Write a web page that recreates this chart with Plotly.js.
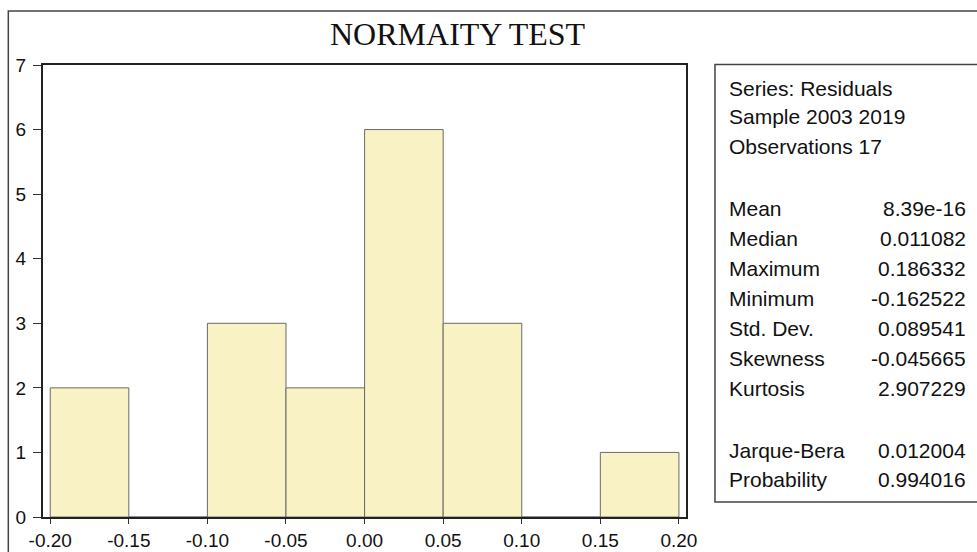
<!DOCTYPE html>
<html>
<head>
<meta charset="utf-8">
<script src="https://cdn.plot.ly/plotly-3.0.1.min.js"></script>
<style>html,body{margin:0;padding:0;background:#fff;}#chart{width:977px;height:552px;}</style>
</head>
<body>
<div id="chart"></div>
<script>
// ---- data ----
var binCenters = [-0.175, -0.125, -0.075, -0.025, 0.025, 0.075, 0.125, 0.175];
var counts = [2, 0, 3, 2, 6, 3, 0, 1];
var binWidth = 0.05;
var xTickVals = [-0.20, -0.15, -0.10, -0.05, 0.00, 0.05, 0.10, 0.15, 0.20];
var xTickText = ["-0.20", "-0.15", "-0.10", "-0.05", "0.00", "0.05", "0.10", "0.15", "0.20"];
var headerLines = ["Series: Residuals", "Sample 2003 2019", "Observations 17"];
var statLabels = ["Mean", "Median", "Maximum", "Minimum", "Std. Dev.", "Skewness", "Kurtosis", "Jarque-Bera", "Probability"];
var statValues = ["8.39e-16", "0.011082", "0.186332", "-0.162522", "0.089541", "-0.045665", "2.907229", "0.012004", "0.994016"];
var chartTitle = "NORMAITY TEST";

// ---- layout geometry (pixels) ----
var W = 977, H = 552;
var plotL = 42.7, plotR = 686, plotT = 65, plotB = 517;
var pw = plotR - plotL, ph = plotB - plotT;
function px(x) { return (x - plotL) / pw; }
function py(y) { return (plotB - y) / ph; }

var annotations = [];
annotations.push({
  text: chartTitle, xref: 'paper', yref: 'paper', x: px(458), y: py(34),
  xanchor: 'center', yanchor: 'middle', showarrow: false,
  font: {family: '"Liberation Serif", "Times New Roman", serif', size: 32, color: '#111'}
});
var statFont = {family: 'Arial, "Liberation Sans", sans-serif', size: 21, color: '#111'};
var headerY = [88, 117, 147];
headerLines.forEach(function (t, i) {
  annotations.push({text: t, xref: 'paper', yref: 'paper', x: px(727), y: py(headerY[i]),
    xanchor: 'left', yanchor: 'middle', showarrow: false, font: statFont});
});
var statY = [208, 238, 268, 298, 328, 358, 388, 450, 479];
statLabels.forEach(function (t, i) {
  annotations.push({text: t, xref: 'paper', yref: 'paper', x: px(727), y: py(statY[i]),
    xanchor: 'left', yanchor: 'middle', showarrow: false, font: statFont});
  annotations.push({text: statValues[i], xref: 'paper', yref: 'paper', x: px(968), y: py(statY[i]),
    xanchor: 'right', yanchor: 'middle', showarrow: false, font: statFont});
});

var shapes = [
  // outer frame (right and bottom fall outside picture)
  {type: 'rect', xref: 'paper', yref: 'paper', x0: px(8), x1: px(1000), y0: py(580), y1: py(11),
   line: {color: '#444', width: 1.5}, fillcolor: 'rgba(0,0,0,0)', layer: 'below'},
  // stats box
  {type: 'rect', xref: 'paper', yref: 'paper', x0: px(715), x1: px(1000), y0: py(502), y1: py(64.5),
   line: {color: '#444', width: 1.5}, fillcolor: 'rgba(0,0,0,0)'}
];

var trace = {
  type: 'bar', x: binCenters, y: counts, width: binWidth,
  marker: {color: 'rgb(249,242,196)', line: {color: '#6a6a6a', width: 1}},
  hoverinfo: 'x+y'
};

var tickFont = {family: 'Arial, "Liberation Sans", sans-serif', size: 19, color: '#111'};
var layout = {
  width: W, height: H,
  margin: {l: plotL, r: W - plotR, t: plotT, b: H - plotB, pad: 0},
  paper_bgcolor: '#fff', plot_bgcolor: '#fff',
  showlegend: false, bargap: 0,
  xaxis: {range: [-0.2046, 0.2045], tickvals: xTickVals, ticktext: xTickText,
    ticks: 'outside', ticklen: 5, tickwidth: 1, tickcolor: '#333',
    showline: true, linewidth: 2, linecolor: '#222', mirror: true,
    showgrid: false, zeroline: false, tickfont: tickFont, fixedrange: true},
  yaxis: {range: [0, 7], dtick: 1, tick0: 0,
    ticks: 'outside', ticklen: 8, tickwidth: 1, tickcolor: '#333',
    ticklabelstandoff: 3,
    showline: true, linewidth: 2, linecolor: '#222', mirror: true,
    showgrid: false, zeroline: false, tickfont: tickFont, fixedrange: true},
  annotations: annotations,
  shapes: shapes
};

Plotly.newPlot('chart', [trace], layout, {displayModeBar: false, staticPlot: true});
</script>
</body>
</html>
